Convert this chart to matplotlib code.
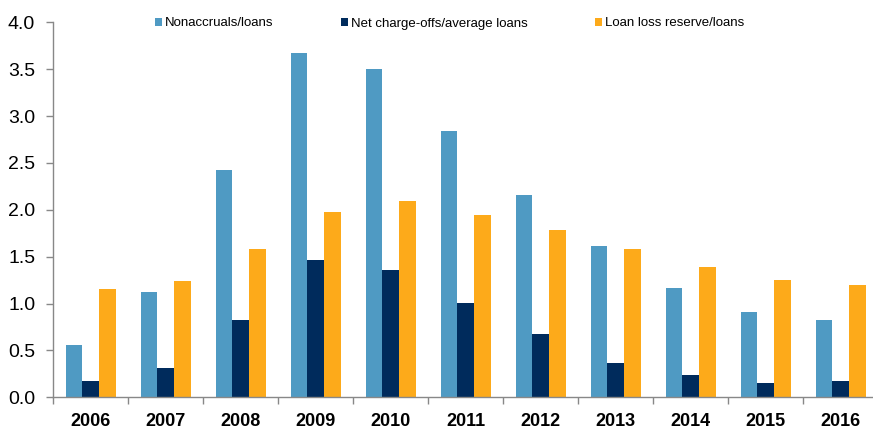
import matplotlib
matplotlib.use("Agg")
import matplotlib.pyplot as plt
import numpy as np

years = ["2006", "2007", "2008", "2009", "2010", "2011", "2012", "2013", "2014", "2015", "2016"]
nonaccruals = [0.56, 1.12, 2.42, 3.67, 3.50, 2.84, 2.16, 1.61, 1.17, 0.91, 0.82]
net_chargeoffs = [0.17, 0.31, 0.82, 1.46, 1.36, 1.01, 0.68, 0.37, 0.24, 0.15, 0.17]
reserve = [1.16, 1.24, 1.58, 1.98, 2.09, 1.94, 1.78, 1.58, 1.39, 1.25, 1.20]
series_labels = ["Nonaccruals/loans", "Net charge-offs/average loans", "Loan loss reserve/loans"]
y_ticks = [0.0, 0.5, 1.0, 1.5, 2.0, 2.5, 3.0, 3.5, 4.0]

plt.rcParams["font.family"] = ["Liberation Sans", "DejaVu Sans"]

W, H = 873, 430
fig = plt.figure(figsize=(W / 100, H / 100), dpi=100)
ax = fig.add_axes([53.3 / W, 32.7 / H, 825 / W, 375 / H])

colors = ["#4F9AC3", "#002B5C", "#FDAA1A"]
x = np.arange(len(years))
bw = 0.223
handles = []
for i, (vals, c, lab) in enumerate(zip([nonaccruals, net_chargeoffs, reserve], colors, series_labels)):
    b = ax.bar(x + (i - 1) * bw, vals, width=bw, color=c, label=lab, zorder=2)
    handles.append(b)

ax.set_xlim(-0.5, len(years) - 0.5)
ax.set_ylim(0, 4.0)
ax.set_yticks(y_ticks)
ax.set_yticklabels([f"{v:.1f}" for v in y_ticks], fontsize=14)
ax.tick_params(axis="y", direction="out", length=5, width=1, color="#888888", pad=8)

ax.set_xticks(x)
ax.set_xticklabels(years, fontsize=13, fontweight="bold")
ax.tick_params(axis="x", length=0, pad=11)
ax.set_xticks(np.arange(len(years) + 1) - 0.5, minor=True)
ax.tick_params(axis="x", which="minor", direction="out", length=5, width=1, color="#888888")

for s in ["top", "right"]:
    ax.spines[s].set_visible(False)
for s in ["left", "bottom"]:
    ax.spines[s].set_color("#888888")
    ax.spines[s].set_linewidth(1)

fig.legend(handles=handles, labels=series_labels, loc="center left",
           bbox_to_anchor=(155 / W, 1 - 23.5 / H), ncol=3, frameon=False,
           fontsize=9.5, handlelength=0.5, handleheight=0.5, handletextpad=0.27,
           columnspacing=5.1, borderpad=0, borderaxespad=0)

fig.savefig("out.png", dpi=100)
